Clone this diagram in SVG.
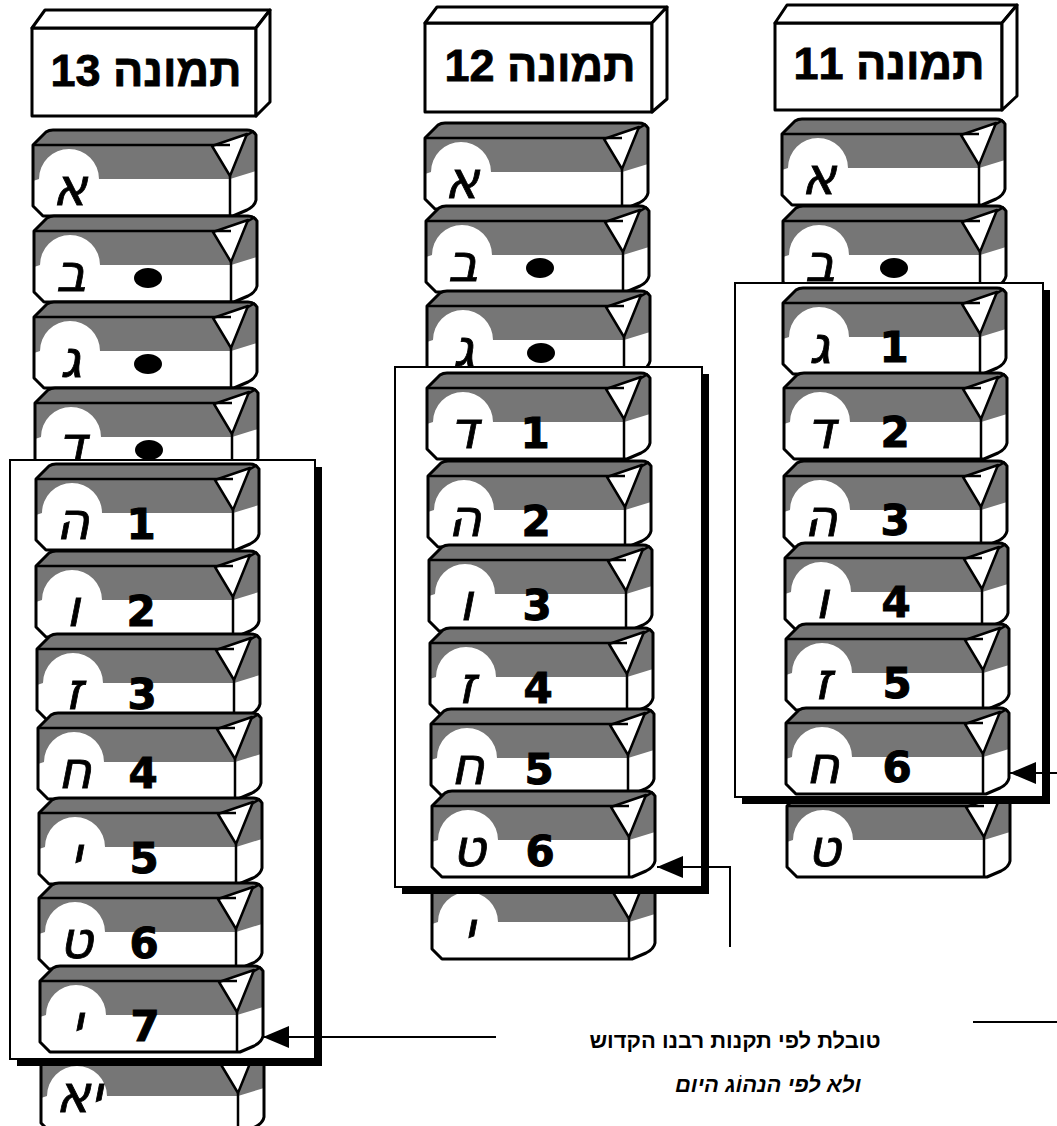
<svg xmlns="http://www.w3.org/2000/svg" xmlns:xlink="http://www.w3.org/1999/xlink" width="1057" height="1126" viewBox="0 0 1057 1126">
<style>
.ol{fill:none;stroke:#000;stroke-width:3;stroke-linejoin:round}
.wf{fill:#fff}
.gf{fill:#767676}
.tri{fill:#fff;stroke:#000;stroke-width:2.5;stroke-linejoin:round}
.ln{fill:none;stroke:#000;stroke-width:2.5}
.box{fill:#fff;stroke:#000;stroke-width:3;stroke-linejoin:round}
.hdr{font-family:"Liberation Sans","DejaVu Sans",sans-serif;font-weight:bold;font-size:45px;fill:#000;stroke:#000;stroke-width:0.8}
.let{font-family:"DejaVu Sans","Liberation Sans",sans-serif;font-style:italic;font-size:52px;fill:#000;stroke:#000;stroke-width:0.8;text-anchor:middle}
.num{font-family:"DejaVu Sans","Liberation Sans",sans-serif;font-weight:bold;font-size:42px;fill:#000;stroke:#000;stroke-width:1;text-anchor:middle}
.dot{fill:#000}
.frm{fill:#fff;stroke:#000;stroke-width:2}
.shd{fill:#000}
.con{fill:none;stroke:#000;stroke-width:2}
.cap{font-family:"Liberation Sans","DejaVu Sans",sans-serif;font-weight:bold;font-size:22px;fill:#000;text-anchor:middle}
</style>
<defs>
<marker id="ah" viewBox="0 0 26 22" refX="26" refY="11" markerWidth="26" markerHeight="22" markerUnits="userSpaceOnUse" orient="auto">
<path d="M0,0 L26,11 L0,22 Z" fill="#000"/>
</marker>
<g id="blk">
<path class="wf" d="M0,16 L13,3 Q16,1 20,1 L214,1 Q220,1 223,6 L223,71 Q222,77 214,81 L200,87 L10,87 L0,77 Z"/>
<path class="gf" d="M0,16 L13,3 Q16,1 20,1 L214,1 Q220,1 223,6 L223,42 L197,50 L66,50 A30,30 0 0 0 6,50 L0,52 Z"/>
<path class="ln" d="M197,16 L221,2"/>
<path class="tri" d="M179,17 L214,5 L197,47 Z"/>
<path class="ln" d="M0,16 H197 M197,47 V87"/>
<path class="ol" d="M0,16 L13,3 Q16,1 20,1 L214,1 Q220,1 223,6 L223,71 Q222,77 214,81 L200,87 L10,87 L0,77 Z"/>
</g>
</defs>
<rect width="1057" height="1126" fill="#fff"/>

<!-- Column 13 -->
<g id="col13">
<g id="hdr13">
<rect class="box" x="32" y="28" width="224" height="88"/>
<path class="box" d="M32,28 L45,10 L270,10 L256,28 Z"/>
<path class="box" d="M256,28 L270,10 L270,102 L256,116 Z"/>
<text class="hdr" x="146" y="86" text-anchor="middle" direction="rtl">תמונה 13</text>
</g>
<g id="c13-1" transform="translate(33,129)"><use xlink:href="#blk"/><text class="let" x="37" y="76">א</text></g>
<g id="c13-2" transform="translate(34,215)"><use xlink:href="#blk"/><text class="let" x="37" y="76">ב</text><ellipse class="dot" cx="114" cy="63" rx="14" ry="10"/></g>
<g id="c13-3" transform="translate(34,301)"><use xlink:href="#blk"/><text class="let" x="37" y="76">ג</text><ellipse class="dot" cx="114" cy="63" rx="14" ry="10"/></g>
<g id="c13-4" transform="translate(35,387)"><use xlink:href="#blk"/><text class="let" x="37" y="76">ד</text><ellipse class="dot" cx="114" cy="63" rx="14" ry="10"/></g>
<g id="c13-12" transform="translate(41,1046)"><use xlink:href="#blk"/><text class="let" x="38" y="66">יא</text></g>
<g id="frame13"><rect class="shd" x="17" y="467" width="305" height="599"/><rect class="frm" x="10" y="460" width="305" height="599"/></g>
<g id="c13-5" transform="translate(36,463)"><use xlink:href="#blk"/><text class="let" x="37" y="76">ה</text><text class="num" x="105" y="76">1</text></g>
<g id="c13-6" transform="translate(36,550)"><use xlink:href="#blk"/><text class="let" x="37" y="76">ו</text><text class="num" x="105" y="76">2</text></g>
<g id="c13-7" transform="translate(37,633)"><use xlink:href="#blk"/><text class="let" x="37" y="76">ז</text><text class="num" x="105" y="76">3</text></g>
<g id="c13-8" transform="translate(38,712)"><use xlink:href="#blk"/><text class="let" x="37" y="76">ח</text><text class="num" x="105" y="76">4</text></g>
<g id="c13-9" transform="translate(39,797)"><use xlink:href="#blk"/><text class="let" x="37" y="76">י</text><text class="num" x="105" y="76">5</text></g>
<g id="c13-10" transform="translate(39,882)"><use xlink:href="#blk"/><text class="let" x="37" y="76">ט</text><text class="num" x="105" y="76">6</text></g>
<g id="c13-11" transform="translate(40,965)"><use xlink:href="#blk"/><text class="let" x="37" y="76">י</text><text class="num" x="105" y="76">7</text></g>
</g>

<!-- Column 12 -->
<g id="col12">
<g id="hdr12">
<rect class="box" x="425" y="23" width="227" height="89"/>
<path class="box" d="M425,23 L437,7 L667,7 L652,23 Z"/>
<path class="box" d="M652,23 L667,7 L667,99 L652,112 Z"/>
<text class="hdr" x="540" y="81" text-anchor="middle" direction="rtl">תמונה 12</text>
</g>
<g id="c12-1" transform="translate(425,122)"><use xlink:href="#blk"/><text class="let" x="37" y="76">א</text></g>
<g id="c12-2" transform="translate(426,205)"><use xlink:href="#blk"/><text class="let" x="37" y="76">ב</text><ellipse class="dot" cx="114" cy="63" rx="14" ry="10"/></g>
<g id="c12-3" transform="translate(427,290)"><use xlink:href="#blk"/><text class="let" x="37" y="76">ג</text><ellipse class="dot" cx="114" cy="63" rx="14" ry="10"/></g>
<g id="c12-10" transform="translate(432,872)"><use xlink:href="#blk"/><text class="let" x="37" y="76">י</text></g>
<g id="frame12"><rect class="shd" x="402" y="374" width="307" height="520"/><rect class="frm" x="395" y="367" width="307" height="520"/></g>
<g id="c12-4" transform="translate(427,372)"><use xlink:href="#blk"/><text class="let" x="37" y="76">ד</text><text class="num" x="108" y="76">1</text></g>
<g id="c12-5" transform="translate(428,460)"><use xlink:href="#blk"/><text class="let" x="37" y="76">ה</text><text class="num" x="108" y="76">2</text></g>
<g id="c12-6" transform="translate(429,544)"><use xlink:href="#blk"/><text class="let" x="37" y="76">ו</text><text class="num" x="108" y="76">3</text></g>
<g id="c12-7" transform="translate(430,627)"><use xlink:href="#blk"/><text class="let" x="37" y="76">ז</text><text class="num" x="108" y="76">4</text></g>
<g id="c12-8" transform="translate(431,708)"><use xlink:href="#blk"/><text class="let" x="37" y="76">ח</text><text class="num" x="108" y="76">5</text></g>
<g id="c12-9" transform="translate(432,790)"><use xlink:href="#blk"/><text class="let" x="37" y="76">ט</text><text class="num" x="108" y="76">6</text></g>
</g>

<!-- Column 11 -->
<g id="col11">
<g id="hdr11">
<rect class="box" x="775" y="23" width="227" height="87"/>
<path class="box" d="M775,23 L787,5 L1017,5 L1002,23 Z"/>
<path class="box" d="M1002,23 L1017,5 L1017,96 L1002,110 Z"/>
<text class="hdr" x="889" y="79" text-anchor="middle" direction="rtl">תמונה 11</text>
</g>
<g id="c11-1" transform="translate(782,118)"><use xlink:href="#blk"/><text class="let" x="37" y="76">א</text></g>
<g id="c11-2" transform="translate(783,205)"><use xlink:href="#blk"/><text class="let" x="37" y="76">ב</text><ellipse class="dot" cx="111" cy="63" rx="14" ry="10"/></g>
<g id="c11-9" transform="translate(787,790)"><use xlink:href="#blk"/><text class="let" x="37" y="76">ט</text></g>
<g id="frame11"><rect class="shd" x="742" y="290" width="308" height="514"/><rect class="frm" x="735" y="283" width="308" height="514"/></g>
<g id="c11-3" transform="translate(783,287)"><use xlink:href="#blk"/><text class="let" x="37" y="76">ג</text><text class="num" x="111" y="75">1</text></g>
<g id="c11-4" transform="translate(784,372)"><use xlink:href="#blk"/><text class="let" x="37" y="76">ד</text><text class="num" x="111" y="75">2</text></g>
<g id="c11-5" transform="translate(784,460)"><use xlink:href="#blk"/><text class="let" x="37" y="76">ה</text><text class="num" x="111" y="75">3</text></g>
<g id="c11-6" transform="translate(785,542)"><use xlink:href="#blk"/><text class="let" x="37" y="76">ו</text><text class="num" x="111" y="75">4</text></g>
<g id="c11-7" transform="translate(786,623)"><use xlink:href="#blk"/><text class="let" x="37" y="76">ז</text><text class="num" x="111" y="75">5</text></g>
<g id="c11-8" transform="translate(786,707)"><use xlink:href="#blk"/><text class="let" x="37" y="76">ח</text><text class="num" x="111" y="75">6</text></g>
</g>

<!-- Connectors -->
<g id="connectors">
<path class="con" d="M1057,773 H1010" marker-end="url(#ah)"/>
<path class="con" d="M730,947 V867 H657" marker-end="url(#ah)"/>
<path class="con" d="M496,1037 H263" marker-end="url(#ah)"/>
<path class="con" d="M973,1022 H1057" stroke-width="2.5"/>
</g>

<!-- Caption -->
<g id="caption">
<text class="cap" x="735" y="1048">טובלת לפי תקנות רבנו הקדוש</text>
<text class="cap" x="768" y="1092" font-style="italic">ולא לפי הנהוֹג היום</text>
</g>
</svg>
